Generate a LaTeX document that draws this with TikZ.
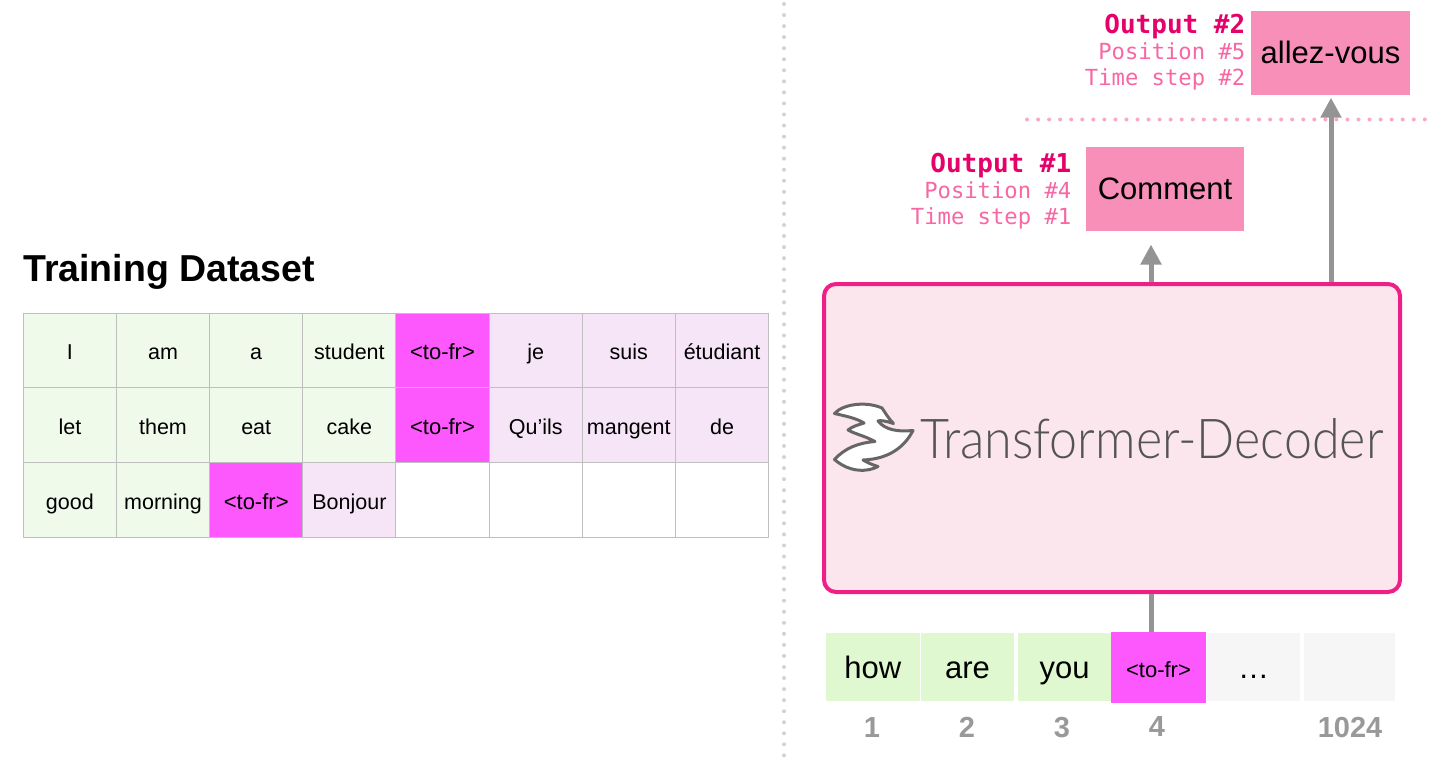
\documentclass[tikz,border=0pt]{standalone}
\usepackage{fontspec}
\setmainfont{Liberation Sans}
\newfontfamily\monof{DejaVu Sans Mono}
\newfontfamily\thinf{Lato Light}
\usetikzlibrary{arrows.meta}
\definecolor{gridline}{HTML}{BFBFBF}
\definecolor{srcgreen}{HTML}{F0FAEB}
\definecolor{tgtpurple}{HTML}{F5E5F7}
\definecolor{magentatok}{HTML}{FC58FD}
\definecolor{tokgreen}{HTML}{DFF8D0}
\definecolor{tokgray}{HTML}{F6F6F6}
\definecolor{outpink}{HTML}{F78FB8}
\definecolor{decfill}{HTML}{FBE6ED}
\definecolor{decline}{HTML}{F01F87}
\definecolor{arrowgray}{HTML}{949494}
\definecolor{numgray}{HTML}{999999}
\definecolor{sepgray}{HTML}{D2D2D2}
\definecolor{seppink}{HTML}{F9A8C9}
\definecolor{labbold}{HTML}{E5006A}
\definecolor{lablight}{HTML}{F767A3}
\tikzset{
  x=1pt,y=-1pt,
  cell/.style={draw=gridline,line width=1pt,inner sep=0pt,minimum width=93.2pt,font=\fontsize{21.5}{24}\selectfont,text height=18pt,text depth=0pt},
  rowa/.style={cell,minimum height=74.3pt},
  rowb/.style={cell,minimum height=74.7pt},
  rowc/.style={cell,minimum height=75pt},
  src/.style={fill=srcgreen},
  tgt/.style={fill=tgtpurple},
  tofr/.style={fill=magentatok,font=\fontsize{22}{24}\selectfont},
  blank/.style={fill=white},
  token/.style={inner sep=0pt,minimum width=93.5pt,minimum height=68pt,font=\fontsize{31}{34}\selectfont,text height=22pt,text depth=0pt},
  numlabel/.style={font=\fontsize{29}{32}\selectfont\bfseries,text=numgray,inner sep=0pt,anchor=base},
  outbox/.style={fill=outpink,inner sep=0pt,minimum width=158.5pt,minimum height=84pt,font=\fontsize{31}{34}\selectfont,text height=22pt,text depth=0pt},
  outlabel/.style={inner sep=0pt,anchor=base east,align=right,text=lablight,font=\monof\fontsize{22.2}{24}\selectfont},
  outhead/.style={inner sep=0pt,anchor=base east,text=labbold,font=\monof\bfseries\fontsize{26}{28}\selectfont},
  bigarrow/.style={draw=arrowgray,line width=5pt,-{Triangle[length=20pt,width=20pt]}},
  sepline/.style={line width=4pt,line cap=round,dash pattern=on 0pt off 11.05pt},
}
\begin{document}
\begin{tikzpicture}
\useasboundingbox (0,0) rectangle (1440,762);
% separators
\coordinate (sepTop) at (784,4);
\coordinate (sepBot) at (784,762);
\coordinate (dotL) at (1027,119.5);
\coordinate (dotR) at (1426,119.5);
\draw[sepline,draw=sepgray] (sepTop) -- (sepBot);
\draw[sepline,draw=seppink] (dotL) -- (dotR);
% title
\node[inner sep=0pt,anchor=base west,font=\fontsize{37.5}{40}\selectfont\bfseries] (title) at (23,281) {Training Dataset};
% table
\node[rowa,src] (a1) at (69.9,350.7) {I};
\node[rowa,src] (a2) at (163,350.7) {am};
\node[rowa,src] (a3) at (256.2,350.7) {a};
\node[rowa,src] (a4) at (349.4,350.7) {student};
\node[rowa,tofr] (a5) at (442.5,350.7) {<to-fr>};
\node[rowa,tgt] (a6) at (535.7,350.7) {je};
\node[rowa,tgt] (a7) at (628.8,350.7) {suis};
\node[rowa,tgt] (a8) at (722,350.7) {étudiant};
\node[rowb,src] (b1) at (69.9,425.2) {let};
\node[rowb,src] (b2) at (163,425.2) {them};
\node[rowb,src] (b3) at (256.2,425.2) {eat};
\node[rowb,src] (b4) at (349.4,425.2) {cake};
\node[rowb,tofr] (b5) at (442.5,425.2) {<to-fr>};
\node[rowb,tgt] (b6) at (535.7,425.2) {Qu’ils};
\node[rowb,tgt] (b7) at (628.8,425.2) {mangent};
\node[rowb,tgt] (b8) at (722,425.2) {de};
\node[rowc,src] (c1) at (69.9,500) {good};
\node[rowc,src] (c2) at (163,500) {morning};
\node[rowc,tofr] (c3) at (256.2,500) {<to-fr>};
\node[rowc,tgt] (c4) at (349.4,500) {Bonjour};
\node[rowc,blank] (c5) at (442.5,500) {};
\node[rowc,blank] (c6) at (535.7,500) {};
\node[rowc,blank] (c7) at (628.8,500) {};
\node[rowc,blank] (c8) at (722,500) {};
% decoder
\node[draw=decline,fill=decfill,line width=4pt,rounded corners=12pt,minimum width=576pt,minimum height=308pt,inner sep=0pt] (decoder) at (1112,438) {};
\node[inner sep=0pt,anchor=base west,text=black!67,font=\thinf\fontsize{55}{60}\selectfont] (dectext) at (920,458) {\scalebox{.913}[1]{Transformer-Decoder}};
% logo
\draw[draw=black!60,fill=white,line width=3pt,line join=round]
  (834.5,413.5) .. controls (843,404) and (866,401) .. (882,408)
  .. controls (886,414) and (889,419) .. (893.5,423.5)
  .. controls (886,421) and (880,420) .. (878,421)
  .. controls (885,430) and (898,432) .. (913,430.5)
  .. controls (905,446) and (890,459) .. (863,460)
  .. controls (868,463) and (873,465) .. (878,466.5)
  .. controls (868,472) and (850,473) .. (834.5,459.5)
  .. controls (845,448) and (858,443) .. (875,441.5)
  .. controls (865,436) and (855,434) .. (848,430)
  .. controls (853,426) and (858,425) .. (864,423)
  .. controls (856,418) and (845,416) .. (834.5,413.5) -- cycle;
% inputs
\node[token,fill=tokgreen] (t1) at (872.8,667) {how};
\node[token,fill=tokgreen] (t2) at (967.5,667) {are};
\node[token,fill=tokgreen] (t3) at (1064.5,667) {you};
\node[token,fill=tokgray] (t5) at (1253.5,667) {…};
\node[token,fill=tokgray,minimum width=91pt] (t6) at (1349.5,667) {};
\node[token,fill=magentatok,minimum width=95pt,minimum height=71pt,font=\fontsize{22}{24}\selectfont,text height=19pt,text depth=0pt] (t4) at (1158.5,667.5) {<to-fr>};
\node[numlabel] (n1) at (872,737) {1};
\node[numlabel] (n2) at (967,737) {2};
\node[numlabel] (n3) at (1062,737) {3};
\node[numlabel] (n4) at (1157,736) {4};
\node[numlabel] (n5) at (1350,737) {1024};
% outputs
\node[outbox] (o1) at (1165,189) {Comment};
\node[outbox] (o2) at (1330.5,53) {allez-vous};
\node[outhead] (h1) at (1071.5,173) {Output \#1};
\node[outlabel] (p1) at (1071.5,199) {Position \#4};
\node[outlabel] (s1) at (1071.5,225) {Time step \#1};
\node[outhead] (h2) at (1245.5,34) {Output \#2};
\node[outlabel] (p2) at (1245.5,60) {Position \#5};
\node[outlabel] (s2) at (1245.5,86) {Time step \#2};
% connectors
\coordinate (d1) at (1151,282);
\coordinate (d1tip) at (1151,244.5);
\coordinate (d2) at (1331,282);
\coordinate (d3) at (1151,594);
\coordinate (d3end) at (1151,632);
\draw[bigarrow] (d1) -- (d1tip);
\draw[bigarrow,shorten >=2.5pt] (d2) -- (o2.south -| d2);
\draw[draw=arrowgray,line width=5pt] (d3) -- (d3end);
\end{tikzpicture}
\end{document}
